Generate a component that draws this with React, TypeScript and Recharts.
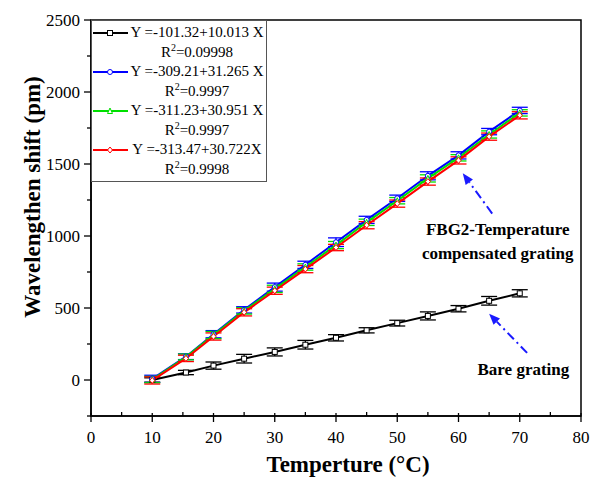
import { LineChart, Line, XAxis, YAxis, ErrorBar, Legend, ReferenceArea, ReferenceLine, ReferenceDot } from 'recharts';

const temps = [10, 15.5, 20, 25, 30, 35, 40, 45, 50, 55, 60, 65, 70];
const bare = [0, 52, 100, 148, 195, 245, 293, 345, 395, 445, 495, 550, 602];
const bareErr = [15, 15, 25, 30, 28, 30, 22, 18, 20, 28, 22, 30, 25];
const blue = [8, 162, 318, 487, 645, 800, 957, 1112, 1262, 1418, 1560, 1725, 1872];
const blueErr = [25, 20, 25, 22, 28, 25, 30, 25, 22, 28, 25, 22, 22];
const green = [3, 160, 312, 480, 633, 785, 937, 1095, 1245, 1400, 1543, 1705, 1855];
const greenErr = [22, 20, 25, 22, 25, 22, 25, 22, 22, 25, 22, 25, 22];
const red = [-3, 150, 302, 470, 620, 770, 920, 1075, 1225, 1378, 1525, 1690, 1838];
const redErr = [25, 22, 25, 25, 25, 25, 22, 25, 25, 25, 25, 25, 25];

const equations = ['Y =-101.32+10.013 X', 'Y =-309.21+31.265 X', 'Y =-311.23+30.951 X', 'Y =-313.47+30.722X'];
const r2Values = ['0.09998', '0.9997', '0.9997', '0.9998'];
const colors = ['#000000', '#0000ff', '#00e000', '#ff0000'];
const markers = ['square', 'circle', 'triangle', 'diamond'];

const xTicks = [0, 5, 10, 15, 20, 25, 30, 35, 40, 45, 50, 55, 60, 65, 70, 75, 80];
const yTicks = [-250, 0, 250, 500, 750, 1000, 1250, 1500, 1750, 2000, 2250, 2500];

const data = temps.map((t, i) => ({
  t,
  bare: bare[i],
  bareErr: bareErr[i],
  blue: blue[i],
  blueErr: blueErr[i],
  green: green[i],
  greenErr: greenErr[i],
  red: red[i],
  redErr: redErr[i],
}));

const FONT = '"Liberation Serif", "Times New Roman", serif';

function Marker({ kind, cx, cy, color }: { kind: string; cx: number; cy: number; color: string }) {
  if (cx == null || cy == null) return null;
  const s = 2.5;
  if (kind === 'square')
    return <rect x={cx - s} y={cy - s} width={s * 2} height={s * 2} fill="#fff" stroke={color} strokeWidth={1} />;
  if (kind === 'circle') return <circle cx={cx} cy={cy} r={s} fill="#fff" stroke={color} strokeWidth={1} />;
  if (kind === 'triangle')
    return (
      <polygon
        points={`${cx},${cy - s - 0.5} ${cx - s},${cy + s} ${cx + s},${cy + s}`}
        fill="#fff"
        stroke={color}
        strokeWidth={1}
      />
    );
  return (
    <polygon
      points={`${cx},${cy - s - 0.5} ${cx + s},${cy} ${cx},${cy + s + 0.5} ${cx - s},${cy}`}
      fill="#fff"
      stroke={color}
      strokeWidth={1}
    />
  );
}

const makeDot = (i: number) => (props: any) => (
  <Marker key={`${i}-${props.index}`} kind={markers[i]} cx={props.cx} cy={props.cy} color={colors[i]} />
);

function XTick(props: any) {
  const { x, y, payload } = props;
  const v = payload.value;
  const major = v % 10 === 0;
  return (
    <g>
      {major ? (
        <line x1={x} y1={y - 3} x2={x} y2={y + 6} stroke="#000" strokeWidth={1.3} />
      ) : (
        <line x1={x} y1={y} x2={x} y2={y - 4} stroke="#000" strokeWidth={1.3} />
      )}
      {major && (
        <text x={x} y={y + 27} textAnchor="middle" fontFamily={FONT} fontSize={17} fill="#000">
          {v}
        </text>
      )}
    </g>
  );
}

function YTick(props: any) {
  const { x, y, payload } = props;
  const v = payload.value;
  const major = v % 500 === 0;
  return (
    <g>
      {major ? (
        <line x1={x - 7} y1={y} x2={x} y2={y} stroke="#000" strokeWidth={1.3} />
      ) : (
        <line x1={x} y1={y} x2={x - 4} y2={y} stroke="#000" strokeWidth={1.3} />
      )}
      {major && (
        <text x={x - 11} y={y + 6} textAnchor="end" fontFamily={FONT} fontSize={17} fill="#000">
          {v}
        </text>
      )}
    </g>
  );
}

function Arrow(props: any) {
  const { x1, y1, x2, y2 } = props;
  const ang = Math.atan2(y2 - y1, x2 - x1);
  const len = 11;
  const w = 4.5;
  const bx = x2 - len * Math.cos(ang);
  const by = y2 - len * Math.sin(ang);
  const px = -Math.sin(ang) * w;
  const py = Math.cos(ang) * w;
  return (
    <g>
      <line x1={x1} y1={y1} x2={bx} y2={by} stroke="#1a1aff" strokeWidth={2} strokeDasharray="9 4 2 4" />
      <polygon points={`${x2},${y2} ${bx + px},${by + py} ${bx - px},${by - py}`} fill="#1a1aff" />
    </g>
  );
}

function LegendBox() {
  return (
    <div
      style={{
        border: '1px solid #555',
        background: '#fff',
        width: 176,
        fontFamily: FONT,
        fontSize: 15,
        color: '#000',
        lineHeight: '19.5px',
        padding: '2px 0',
        whiteSpace: 'nowrap',
        boxSizing: 'border-box',
      }}
    >
      {equations.map((eq, i) => (
        <div key={eq} style={{ display: 'flex' }}>
          <svg width={36} height={19.5} style={{ flex: 'none' }}>
            <line x1={1} y1={10} x2={36} y2={10} stroke={colors[i]} strokeWidth={2} />
            <Marker kind={markers[i]} cx={18} cy={10} color={colors[i]} />
          </svg>
          <div style={{ textAlign: 'center', flex: 1 }}>
            <div>{eq}</div>
            <div>
              R<span style={{ fontSize: 10, verticalAlign: 'super', lineHeight: 0 }}>2</span>={r2Values[i]}
            </div>
          </div>
        </div>
      ))}
    </div>
  );
}

export default function App() {
  return (
    <div style={{ position: 'absolute', left: 0, top: 0, background: '#fff' }}>
      <LineChart width={591} height={477} data={data} margin={{ top: 20, right: 10, bottom: 0, left: 0 }}>
        <XAxis
          dataKey="t"
          type="number"
          domain={[0, 80]}
          ticks={xTicks}
          interval={0}
          tick={<XTick />}
          tickLine={false}
          tickSize={0}
          tickMargin={0}
          axisLine={{ stroke: '#000', strokeWidth: 1.5 }}
          height={61}
          label={{
            content: ({ viewBox }: any) => (
              <text
                x={viewBox.x + viewBox.width / 2 + 12}
                y={viewBox.y + 56}
                textAnchor="middle"
                fontFamily={FONT}
                fontSize={23}
                fontWeight="bold"
                fill="#000"
              >
                Temperture (°C)
              </text>
            ),
          }}
        />
        <YAxis
          type="number"
          domain={[-250, 2500]}
          ticks={yTicks}
          interval={0}
          tick={<YTick />}
          tickLine={false}
          tickSize={0}
          tickMargin={0}
          axisLine={{ stroke: '#000', strokeWidth: 1.5 }}
          width={91}
          label={{
            content: ({ viewBox }: any) => {
              const cx = viewBox.x + 32;
              const cy = viewBox.y + viewBox.height / 2 - 21;
              return (
                <text
                  x={cx}
                  y={cy}
                  transform={`rotate(-90, ${cx}, ${cy})`}
                  textAnchor="middle"
                  dominantBaseline="central"
                  fontFamily={FONT}
                  fontSize={23}
                  fontWeight="bold"
                  fill="#000"
                >
                  Wavelengthen shift (pm)
                </text>
              );
            },
          }}
        />
        <ReferenceArea x1={0} x2={80} y1={-250} y2={2500} fill="none" stroke="#000" strokeWidth={1.5} />
        <Line dataKey="bare" stroke={colors[0]} strokeWidth={2} dot={makeDot(0)} isAnimationActive={false}>
          <ErrorBar dataKey="bareErr" width={8} stroke={colors[0]} strokeWidth={1.3} direction="y" />
        </Line>
        <Line dataKey="blue" stroke={colors[1]} strokeWidth={2} dot={makeDot(1)} isAnimationActive={false}>
          <ErrorBar dataKey="blueErr" width={8} stroke={colors[1]} strokeWidth={1.3} direction="y" />
        </Line>
        <Line dataKey="green" stroke={colors[2]} strokeWidth={2} dot={makeDot(2)} isAnimationActive={false}>
          <ErrorBar dataKey="greenErr" width={8} stroke={colors[2]} strokeWidth={1.3} direction="y" />
        </Line>
        <Line dataKey="red" stroke={colors[3]} strokeWidth={2} dot={makeDot(3)} isAnimationActive={false}>
          <ErrorBar dataKey="redErr" width={8} stroke={colors[3]} strokeWidth={1.3} direction="y" />
        </Line>
        <ReferenceLine
          segment={[
            { x: 65.5, y: 1156 },
            { x: 60.7, y: 1435 },
          ]}
          shape={<Arrow />}
          ifOverflow="visible"
        />
        <ReferenceLine
          segment={[
            { x: 71.2, y: 188 },
            { x: 65.0, y: 460 },
          ]}
          shape={<Arrow />}
          ifOverflow="visible"
        />
        <ReferenceDot
          x={66.4}
          y={1010}
          r={0}
          ifOverflow="visible"
          shape={(p: any) => (
            <text x={p.cx} y={p.cy} textAnchor="middle" fontFamily={FONT} fontSize={17} fontWeight="bold" fill="#000">
              <tspan x={p.cx}>FBG2-Temperature</tspan>
              <tspan x={p.cx} dy={24}>
                compensated grating
              </tspan>
            </text>
          )}
        />
        <ReferenceDot
          x={70.6}
          y={35}
          r={0}
          ifOverflow="visible"
          shape={(p: any) => (
            <text x={p.cx} y={p.cy} textAnchor="middle" fontFamily={FONT} fontSize={17} fontWeight="bold" fill="#000">
              Bare grating
            </text>
          )}
        />
        <Legend
          layout="vertical"
          align="center"
          verticalAlign="middle"
          content={() => <LegendBox />}
          wrapperStyle={{ top: 20, left: 91, width: 'auto', height: 'auto' }}
        />
      </LineChart>
    </div>
  );
}
